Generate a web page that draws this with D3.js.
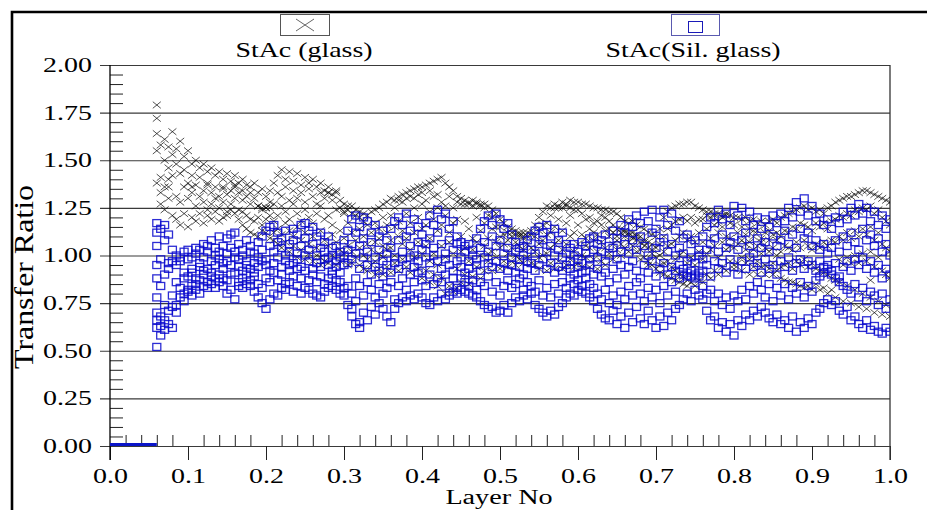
<!DOCTYPE html>
<html><head><meta charset="utf-8">
<script src="https://cdn.jsdelivr.net/npm/d3@7"></script>
<style>
html,body{margin:0;padding:0;background:#fff;}
svg{display:block;font-family:"Liberation Serif","Times New Roman",serif;}
</style></head><body>
<svg id="chart" width="927" height="510"></svg>
<script>
// Layer positions (fraction of stack depth), one column of readings per layer
const layer = [
  0.060,0.065,0.070,0.075,0.080,0.085,0.090,0.095,0.100,0.105,
  0.110,0.115,0.120,0.125,0.130,0.135,0.140,0.145,0.150,0.155,
  0.160,0.165,0.170,0.175,0.180,0.185,0.190,0.195,0.200,0.205,
  0.210,0.215,0.220,0.225,0.230,0.235,0.240,0.245,0.250,0.255,
  0.260,0.265,0.270,0.275,0.280,0.285,0.290,0.295,0.300,0.305,
  0.310,0.315,0.320,0.325,0.330,0.335,0.340,0.345,0.350,0.355,
  0.360,0.365,0.370,0.375,0.380,0.385,0.390,0.395,0.400,0.405,
  0.410,0.415,0.420,0.425,0.430,0.435,0.440,0.445,0.450,0.455,
  0.460,0.465,0.470,0.475,0.480,0.485,0.490,0.495,0.500,0.505,
  0.510,0.515,0.520,0.525,0.530,0.535,0.540,0.545,0.550,0.555,
  0.560,0.565,0.570,0.575,0.580,0.585,0.590,0.595,0.600,0.605,
  0.610,0.615,0.620,0.625,0.630,0.635,0.640,0.645,0.650,0.655,
  0.660,0.665,0.670,0.675,0.680,0.685,0.690,0.695,0.700,0.705,
  0.710,0.715,0.720,0.725,0.730,0.735,0.740,0.745,0.750,0.755,
  0.760,0.765,0.770,0.775,0.780,0.785,0.790,0.795,0.800,0.805,
  0.810,0.815,0.820,0.825,0.830,0.835,0.840,0.845,0.850,0.855,
  0.860,0.865,0.870,0.875,0.880,0.885,0.890,0.895,0.900,0.905,
  0.910,0.915,0.920,0.925,0.930,0.935,0.940,0.945,0.950,0.955,
  0.960,0.965,0.970,0.975,0.980,0.985,0.990,0.995,1.000
];

// StAc (glass): transfer ratios per layer
const glassRatio = [
  [1.79,1.72,1.64,1.55,1.38],[1.58,1.41,1.33,1.27],[1.61,1.50,1.36,1.24],[1.57,1.46,1.40,1.30,1.36],[1.65,1.53,1.42,1.21],[1.56,1.48,1.31,1.19],[1.60,1.43,1.28,1.16],[1.52,1.45,1.36,1.22],[1.55,1.38,1.30,1.15],[1.48,1.42,1.33,1.20,1.36],
  [1.50,1.37,1.26,1.18],[1.46,1.41,1.31,1.22],[1.48,1.34,1.28,1.17],[1.44,1.38,1.24,1.21,1.37],[1.46,1.33,1.27,1.19],[1.42,1.36,1.30,1.23],[1.44,1.31,1.25,1.18],[1.40,1.35,1.28,1.20,1.36],[1.43,1.32,1.23,1.21],[1.39,1.34,1.27,1.24],
  [1.42,1.36,1.30,1.22,1.37],[1.38,1.33,1.24,1.19],[1.40,1.29,1.23,1.16,1.34],[1.37,1.31,1.21,1.14],[1.36,1.27,1.19,1.12,1.33],[1.38,1.30,1.18,1.11],[1.33,1.26,1.20,1.10,1.26],[1.35,1.24,1.16,1.13,1.25],[1.31,1.25,1.25,1.19,1.12],[1.34,1.28,1.21,1.09,1.25],
  [1.38,1.27,1.18,1.08,1.12],[1.42,1.33,1.21,1.14,1.06],[1.45,1.31,1.26,1.11,1.04],[1.40,1.36,1.23,1.17,1.07],[1.44,1.29,1.19,1.13,1.02],[1.39,1.34,1.27,1.10,1.05],[1.43,1.30,1.22,1.15,0.99],[1.37,1.33,1.18,1.08,1.03],[1.41,1.28,1.24,1.12,0.98],[1.38,1.35,1.20,1.06,1.01],
  [1.40,1.31,1.17,1.10,0.97],[1.36,1.27,1.22,1.04,1.00],[1.38,1.33,1.26,1.13,0.99,0.95],[1.34,1.30,1.19,1.08,0.97],[1.36,1.33,1.33,1.21,1.05,0.96],[1.32,1.29,1.16,1.11,1.00],[1.33,1.34,1.24,1.07,0.95],[1.29,1.25,1.13,1.03,0.97],[1.27,1.23,1.22,1.09,1.01],[1.26,1.24,1.17,1.05,0.95],
  [1.26,1.22,1.12,1.02,0.96],[1.24,1.21,1.08,0.99],[1.23,1.20,1.14,1.04,0.95],[1.22,1.18,1.10,1.00,0.93],[1.21,1.16,1.06,0.98,0.92],[1.23,1.12,1.03,0.95],[1.24,1.17,1.07,0.97,0.90],[1.25,1.14,1.09,1.01,0.93],[1.27,1.20,1.05,0.99,0.90],[1.28,1.16,1.12,1.03,0.94],
  [1.30,1.21,1.08,1.04,0.91],[1.29,1.25,1.15,1.00,0.96],[1.31,1.29,1.18,1.10,0.92],[1.32,1.28,1.13,1.06,0.98],[1.33,1.30,1.22,1.09,0.94],[1.34,1.31,1.17,1.03,0.91],[1.35,1.30,1.25,1.12,0.99],[1.36,1.32,1.20,1.07,0.93],[1.36,1.33,1.27,1.14,1.01,0.88],[1.37,1.29,1.16,1.05,0.92],
  [1.38,1.34,1.23,1.09,0.86,0.97],[1.39,1.31,1.19,1.01,0.90],[1.40,1.32,1.25,1.13,0.95,0.84],[1.41,1.28,1.16,1.05,0.88],[1.38,1.26,1.21,0.99,0.80],[1.36,1.31,1.12,1.07,0.84],[1.34,1.25,1.17,1.01,0.81],[1.31,1.28,1.19,0.93,0.83],[1.30,1.27,1.10,1.02,0.86],[1.29,1.27,1.18,1.04,0.90],
  [1.28,1.27,1.14,0.97,0.85],[1.29,1.26,1.09,1.03,0.89],[1.28,1.27,1.20,1.07,0.94],[1.27,1.26,1.13,1.00,0.88],[1.27,1.25,1.17,1.05,0.92],[1.26,1.21,1.09,0.97,1.01],[1.24,1.20,1.14,1.02,0.92],[1.22,1.15,1.07,0.99],[1.19,1.15,1.10,1.04,0.93],[1.17,1.11,1.06,0.97],
  [1.15,1.12,1.08,1.01,0.94],[1.14,1.12,1.04,0.97,1.10],[1.13,1.11,1.07,1.00,0.95],[1.12,1.10,1.05,0.98,1.11],[1.12,1.09,1.03,0.96,1.10],[1.12,1.10,1.06,0.99],[1.13,1.11,1.04,0.96],[1.16,1.10,1.02,0.95],[1.20,1.13,1.06,0.99,0.93],[1.23,1.16,1.08,1.00],
  [1.26,1.17,1.11,1.01,0.92],[1.25,1.21,1.12,1.04,0.96],[1.27,1.25,1.15,1.06,0.93],[1.26,1.25,1.19,1.08,0.97],[1.28,1.25,1.13,1.03,0.93],[1.27,1.26,1.17,1.06,0.95],[1.29,1.25,1.21,1.10,0.98],[1.28,1.24,1.12,1.02,0.94],[1.28,1.24,1.16,1.06,0.96],[1.27,1.22,1.11,1.00,0.94],
  [1.27,1.19,1.09,0.99,1.05],[1.26,1.20,1.14,1.04,0.94],[1.25,1.17,1.08,0.98,1.12],[1.25,1.18,1.11,1.02,0.93],[1.24,1.16,1.07,0.97,1.21],[1.24,1.20,1.13,1.04,0.95],[1.23,1.18,1.10,1.01,1.14],[1.23,1.16,1.12,1.06,0.98],[1.22,1.14,1.10,1.03,1.08],[1.20,1.14,1.12,1.06,1.00],
  [1.18,1.13,1.10,1.04,1.12],[1.17,1.12,1.11,1.07,1.02],[1.18,1.12,1.10,1.05,1.09],[1.16,1.11,1.08,1.02,1.10],[1.15,1.10,1.07,1.03,0.98],[1.14,1.08,1.05,0.99,1.07],[1.12,1.07,1.04,0.97,0.95],[1.11,1.06,1.01,0.95,1.03],[1.10,1.04,0.99,0.93],[1.14,1.06,1.00,0.95,0.91],
  [1.20,1.10,1.02,0.96,0.90],[1.23,1.14,1.05,0.97,0.89],[1.25,1.16,1.06,0.94,0.88],[1.26,1.18,1.08,0.98,0.92,0.87],[1.27,1.19,1.10,1.00,0.90,0.86],[1.27,1.20,1.12,1.02,0.89,0.85],[1.28,1.18,1.08,0.96,0.87,0.84],[1.28,1.20,1.10,0.99,0.86],[1.26,1.17,1.07,0.95,0.84],[1.25,1.19,1.12,1.02,0.87],
  [1.24,1.19,1.07,0.98,0.86],[1.23,1.21,1.14,1.01,0.90],[1.23,1.20,1.09,1.03,0.88],[1.22,1.21,1.16,1.05,0.92],[1.22,1.18,1.12,0.99,0.90],[1.21,1.20,1.15,1.07,0.94],[1.22,1.21,1.10,1.03,0.92],[1.21,1.17,1.09,0.97,1.05],[1.20,1.16,1.04,0.95,0.93],[1.20,1.12,1.06,0.96],
  [1.19,1.15,1.08,0.99,0.92],[1.20,1.11,1.03,0.96,1.06],[1.18,1.14,1.07,0.98,0.90],[1.19,1.10,1.03,0.94,1.13],[1.17,1.13,1.05,0.97,0.90],[1.18,1.09,1.01,0.94,1.07],[1.16,1.12,1.04,0.95,0.90],[1.18,1.08,1.02,0.93,1.13],[1.19,1.11,1.04,0.96,0.90],[1.17,1.08,1.00,0.92,1.12],
  [1.20,1.10,1.02,0.94,0.88],[1.21,1.13,1.05,0.95,0.87],[1.22,1.12,1.04,0.96,0.86],[1.23,1.15,1.03,0.93,0.86],[1.24,1.14,1.07,0.97,0.85],[1.25,1.17,1.04,0.95,0.84],[1.26,1.16,1.08,0.98,0.83],[1.24,1.15,1.05,0.94,0.84],[1.25,1.13,1.03,0.96,0.82],[1.23,1.17,1.06,0.93,0.85],
  [1.24,1.15,1.04,0.92,0.82],[1.22,1.17,1.07,0.91,0.83],[1.25,1.14,1.05,0.90,0.80],[1.26,1.18,1.08,0.88,0.82],[1.28,1.19,1.07,0.87,0.78],[1.29,1.21,1.10,0.98,0.86],[1.30,1.20,1.08,0.95,0.76],[1.31,1.22,1.12,0.99,0.84],[1.31,1.21,1.09,0.96,0.75],[1.32,1.24,1.13,1.00,0.82],
  [1.33,1.23,1.10,0.96,0.73],[1.34,1.25,1.14,1.01,0.80],[1.34,1.24,1.11,0.97,0.72],[1.33,1.26,1.15,1.02,0.78,0.87],[1.32,1.22,1.08,0.94,0.70],[1.31,1.24,1.12,0.99,0.76],[1.30,1.20,1.06,0.92,0.69],[1.29,1.18,1.04,0.90,0.74],[1.28,1.16,1.02,0.88,0.68]
];

// StAc (Sil. glass): transfer ratios per layer
const silGlassRatio = [
  [1.17,1.12,1.05,0.95,0.88,0.78,0.70,0.66,0.62,0.52],[1.14,0.98,0.84,0.68,0.63,0.58],[1.16,1.08,0.90,0.74,0.66,0.61],[1.11,0.96,0.93,0.71,0.64],[1.03,0.97,0.79,0.73,0.62],[1.00,0.95,0.86,0.74,0.70],[0.99,0.97,0.83,0.78],[1.02,0.91,0.88,0.80,0.76],[1.03,0.98,0.89,0.82,0.81],[0.99,0.93,0.91,0.84,0.79],
  [1.04,1.01,0.88,0.85,0.82],[1.03,0.96,0.94,0.87,0.80],[1.06,0.99,0.90,0.92,0.84],[1.02,1.05,0.93,0.86,0.83],[1.08,0.97,0.91,0.89,0.85],[1.00,1.04,0.95,0.88,0.83],[1.10,0.98,1.02,0.90,0.86],[1.05,0.96,0.93,0.88,0.84],[1.09,1.01,0.97,0.87,0.80],[1.11,1.04,0.95,0.90,0.82],
  [1.12,1.02,0.99,0.91,0.77],[1.06,0.98,0.94,0.86,0.84],[1.03,1.00,0.92,0.88,0.83],[1.08,0.97,0.95,0.90,0.85],[1.05,1.02,0.93,0.87,0.84],[1.01,0.96,0.91,0.89,0.81],[1.07,0.99,0.94,0.85,0.78],[1.10,1.03,0.97,0.83,0.75],[1.13,0.98,0.95,0.88,0.72],[1.15,1.05,0.92,0.86,0.77],
  [1.16,1.02,0.96,0.91,0.80],[1.12,1.07,0.99,0.87,0.79],[1.09,1.04,0.94,0.90,0.83],[1.13,1.00,0.97,0.85,0.82],[1.06,1.02,0.95,0.92,0.86],[1.14,1.08,0.96,0.89,0.81],[1.11,1.01,0.98,0.93,0.84],[1.16,1.05,0.94,0.88,0.80],[1.17,1.09,1.00,0.92,0.83],[1.13,1.03,0.97,0.87,0.82],
  [1.15,1.06,0.93,0.90,0.80],[1.10,1.00,0.96,0.86,0.79],[1.12,1.04,0.94,0.89,0.78],[1.07,1.02,0.98,0.85,0.81],[1.10,0.99,0.95,0.88,0.83],[1.04,1.00,0.92,0.90,0.84],[1.05,0.97,0.94,0.87,0.82],[1.02,0.99,0.91,0.86,0.80],[1.08,1.00,0.95,0.83,0.79],[1.13,1.03,0.96,0.84,0.74],
  [1.19,1.06,0.98,0.80,0.72,0.68],[1.21,1.12,1.01,0.88,0.76,0.64],[1.15,1.05,0.93,0.84,0.65,0.62],[1.20,1.09,0.99,0.79,0.70],[1.18,1.02,0.95,0.86,0.66],[1.12,1.07,0.90,0.82,0.73],[1.16,0.99,0.94,0.78,0.69],[1.10,1.03,0.92,0.85,0.75],[1.13,0.97,0.89,0.80,0.72],[1.08,1.01,0.95,0.83,0.68],
  [1.14,1.04,0.91,0.86,0.65],[1.18,0.99,0.96,0.77,0.72],[1.20,1.08,0.93,0.84,0.75],[1.16,1.02,0.98,0.88,0.78],[1.22,1.10,0.95,0.82,0.76],[1.13,1.05,0.99,0.90,0.79],[1.19,1.00,0.94,0.86,0.77],[1.15,1.07,0.97,0.91,0.80],[1.11,1.03,0.92,0.87,0.78],[1.17,1.06,0.99,0.84,0.75],
  [1.21,1.09,0.96,0.90,0.74],[1.16,1.04,1.00,0.85,0.78],[1.24,1.12,0.97,0.88,0.76],[1.19,1.06,0.93,0.86,0.80],[1.22,1.01,0.98,0.90,0.77],[1.14,1.08,0.95,0.84,0.79],[1.18,1.03,0.92,0.88,0.81],[1.10,1.06,0.97,0.83,0.80],[1.07,0.99,0.94,0.88,0.82],[1.05,1.02,0.91,0.86,0.81],
  [1.06,0.97,0.93,0.84,0.80],[1.03,1.00,0.90,0.87,0.79],[1.09,0.98,0.95,0.82,0.78],[1.14,1.04,0.92,0.86,0.76],[1.18,1.07,0.99,0.84,0.74],[1.21,1.02,0.96,0.89,0.72],[1.16,1.10,0.94,0.81,0.73],[1.22,1.05,0.97,0.86,0.70],[1.19,1.08,0.93,0.79,0.71],[1.14,1.01,0.96,0.84,0.74],
  [1.17,1.04,0.92,0.87,0.70],[1.11,0.99,0.95,0.83,0.75],[1.07,1.02,0.91,0.85,0.78],[1.04,0.98,0.94,0.88,0.76],[1.05,1.00,0.90,0.82,0.79],[1.08,0.97,0.93,0.86,0.77],[1.10,1.03,0.96,0.84,0.80],[1.13,1.01,0.92,0.81,0.74],[1.15,1.06,0.95,0.87,0.72],[1.12,1.08,0.98,0.79,0.70],
  [1.16,1.02,0.93,0.83,0.68],[1.10,1.05,0.96,0.78,0.71],[1.14,1.00,0.91,0.85,0.69],[1.08,1.03,0.94,0.80,0.73],[1.12,0.99,0.92,0.86,0.75],[1.06,1.01,0.95,0.83,0.78],[1.04,0.97,0.93,0.88,0.80],[1.06,1.00,0.90,0.85,0.79],[1.02,0.98,0.94,0.87,0.82],[1.07,0.96,0.91,0.84,0.81],
  [1.05,1.01,0.92,0.88,0.80],[1.09,0.98,0.95,0.85,0.78],[1.10,1.03,0.90,0.83,0.76],[1.06,0.99,0.93,0.80,0.72],[1.08,1.02,0.89,0.77,0.69],[1.11,0.97,0.91,0.82,0.67],[1.05,1.00,0.86,0.75,0.66],[1.13,1.04,0.93,0.79,0.71],[1.09,0.98,0.88,0.74,0.64],[1.16,1.02,0.95,0.81,0.68],
  [1.12,1.06,0.90,0.77,0.62],[1.19,1.01,0.94,0.84,0.70],[1.15,1.08,0.97,0.79,0.65],[1.21,1.03,0.92,0.86,0.73],[1.17,1.10,0.88,0.80,0.67],[1.23,1.05,0.95,0.76,0.64],[1.18,1.00,0.91,0.83,0.71],[1.24,1.12,0.97,0.78,0.66],[1.14,1.04,0.89,0.82,0.62],[1.20,1.07,0.93,0.75,0.68],
  [1.24,1.09,0.96,0.84,0.63],[1.16,1.02,0.90,0.79,0.70],[1.22,1.06,0.94,0.86,0.66],[1.13,1.00,0.92,0.81,0.72],[1.18,1.04,0.95,0.88,0.74],[1.09,1.01,0.93,0.90,0.77],[1.11,0.97,0.91,0.89,0.80],[1.06,0.99,0.92,0.89,0.76],[1.08,0.96,0.90,0.88,0.82],[1.03,1.00,0.91,0.89,0.79],
  [1.10,0.98,0.92,0.84,0.77],[1.15,1.03,0.95,0.80,0.71],[1.20,1.06,0.89,0.82,0.66],[1.17,1.09,0.97,0.76,0.68],[1.24,1.02,0.93,0.80,0.62],[1.19,1.11,0.96,0.74,0.65],[1.22,1.04,0.91,0.78,0.60],[1.16,1.07,0.98,0.72,0.64],[1.26,1.10,0.94,0.79,0.58],[1.21,1.03,0.90,0.76,0.66],
  [1.25,1.08,0.97,0.82,0.63],[1.18,1.12,0.93,0.77,0.69],[1.23,1.05,0.99,0.84,0.66],[1.16,1.01,0.94,0.80,0.71],[1.20,1.09,0.96,0.86,0.68],[1.14,1.04,0.91,0.82,0.73],[1.19,1.07,0.98,0.78,0.70],[1.15,1.02,0.93,0.85,0.67],[1.21,1.10,0.95,0.76,0.65],[1.17,1.05,0.90,0.83,0.69],
  [1.22,1.08,0.97,0.79,0.64],[1.18,1.13,0.94,0.85,0.66],[1.25,1.06,0.99,0.77,0.62],[1.20,1.11,0.92,0.83,0.68],[1.28,1.04,0.96,0.80,0.60],[1.23,1.14,0.98,0.86,0.65],[1.30,1.09,0.93,0.78,0.62],[1.21,1.12,0.97,0.84,0.67],[1.26,1.05,0.95,0.81,0.64],[1.18,1.08,0.92,0.87,0.70],
  [1.22,1.03,0.97,0.89,0.72],[1.16,1.06,0.94,0.91,0.75],[1.19,1.01,0.95,0.93,0.77],[1.14,1.04,0.92,0.90,0.74],[1.20,1.08,0.96,0.88,0.76],[1.17,1.02,0.89,0.86,0.71],[1.23,1.10,0.94,0.84,0.69],[1.19,1.05,0.97,0.82,0.73],[1.25,1.12,0.92,0.80,0.66],[1.21,1.07,0.98,0.85,0.68],
  [1.27,1.03,0.95,0.78,0.64],[1.22,1.14,0.99,0.83,0.62],[1.25,1.08,0.93,0.76,0.66],[1.18,1.11,0.97,0.81,0.61],[1.23,1.05,0.91,0.79,0.63],[1.16,1.09,0.95,0.74,0.60],[1.21,1.02,0.88,0.80,0.59],[1.14,1.06,0.93,0.72,0.62],[1.19,1.00,0.90,0.77,0.60]
];

// Leading layers where the Sil. glass ratio reads zero
const zeroRunLayers = [0.0, 0.06];
const zeroRunRatio = 0;

const xTickValues = [0.0,0.1,0.2,0.3,0.4,0.5,0.6,0.7,0.8,0.9,1.0];
const yTickValues = [0.00,0.25,0.50,0.75,1.00,1.25,1.50,1.75,2.00];
const seriesNames = ["StAc (glass)", "StAc(Sil. glass)"];

const SX = 1.4; // horizontal stretch of the serif lettering

const svg = d3.select("#chart");
const x = d3.scaleLinear().domain([0, 1]).range([110, 890]);
const y = d3.scaleLinear().domain([0, 2]).range([446, 65]);

// outer frame
svg.append("path").attr("d", "M12,512V12H929")
  .attr("fill", "none").attr("stroke", "#000").attr("stroke-width", 2.6);

// horizontal grid + y labels
const gy = svg.append("g").attr("transform", "translate(890,0)")
  .call(d3.axisLeft(y).tickValues(yTickValues).tickSize(790).tickPadding(8).tickFormat(d3.format(".2f")));
gy.select(".domain").remove();
gy.selectAll(".tick line").attr("stroke", "#3a3a3a").attr("stroke-width", 1.1);
gy.selectAll(".tick text").attr("font-size", 20).attr("fill", "#000")
  .attr("font-family", "Liberation Serif, serif")
  .attr("x", -798 / SX).attr("transform", `scale(${SX},1)`);

// y minor ticks
const yMinor = d3.range(0.05, 2.0, 0.05).filter(v => Math.abs(v / 0.25 - Math.round(v / 0.25)) > 1e-6);
const gym = svg.append("g").attr("transform", "translate(110,0)")
  .call(d3.axisRight(y).tickValues(yMinor).tickSize(13).tickFormat(""));
gym.select(".domain").remove();
gym.selectAll(".tick line").attr("stroke", "#222");

// x axis: major ticks below, minor ticks above
const gx = svg.append("g").attr("transform", "translate(0,446)")
  .call(d3.axisBottom(x).tickValues(xTickValues).tickSize(14).tickSizeOuter(0).tickPadding(9).tickFormat(d3.format(".1f")));
gx.select(".domain").remove();
gx.selectAll(".tick line").attr("stroke", "#222");
gx.selectAll(".tick text").attr("font-size", 20).attr("fill", "#000")
  .attr("font-family", "Liberation Serif, serif")
  .attr("transform", `scale(${SX},1)`);

const xMinor = d3.range(0.02, 1.0, 0.02).filter(v => Math.abs(v * 10 - Math.round(v * 10)) > 1e-6);
const gxm = svg.append("g").attr("transform", "translate(0,446)")
  .call(d3.axisTop(x).tickValues(xMinor).tickSize(11).tickFormat(""));
gxm.select(".domain").remove();
gxm.selectAll(".tick line").attr("stroke", "#222");

// left and right frame of plot
svg.append("line").attr("x1", x(0)).attr("x2", x(0)).attr("y1", y(2)).attr("y2", 460)
  .attr("stroke", "#000").attr("stroke-width", 1.3);
svg.append("line").attr("x1", x(1)).attr("x2", x(1)).attr("y1", y(2)).attr("y2", 460)
  .attr("stroke", "#333").attr("stroke-width", 1.3);

// data
svg.append("clipPath").attr("id", "plotClip").append("rect")
  .attr("x", x(0)).attr("y", y(2)).attr("width", x(1) - x(0)).attr("height", y(0) - y(2));
const plot = svg.append("g").attr("clip-path", "url(#plotClip)");

const glassPts = layer.flatMap((lx, i) => (glassRatio[i] || []).map(v => ({ x: lx, v })));
const silPts = layer.flatMap((lx, i) => (silGlassRatio[i] || []).map(v => ({ x: lx, v })));

plot.append("g").selectAll("path").data(glassPts).join("path")
  .attr("transform", d => `translate(${x(d.x)},${y(d.v)})`)
  .attr("d", "M-4,-3.3L4,3.3M-4,3.3L4,-3.3")
  .attr("fill", "none").attr("stroke", "#000").attr("stroke-opacity", 0.68).attr("stroke-width", 1);

plot.append("g").selectAll("rect").data(silPts).join("rect")
  .attr("x", d => x(d.x) - 4).attr("y", d => y(d.v) - 3.5)
  .attr("width", 8).attr("height", 7)
  .attr("fill", "none").attr("stroke", "#0808cc").attr("stroke-opacity", 0.85).attr("stroke-width", 1.3);

svg.append("path")
  .datum(zeroRunLayers)
  .attr("d", d3.line().x(d => x(d)).y(() => y(zeroRunRatio) - 1.5))
  .attr("stroke", "#0a14c8").attr("stroke-width", 3).attr("fill", "none");

// legend
const lg1 = svg.append("g");
lg1.append("rect").attr("x", 280.5).attr("y", 14.5).attr("width", 49).attr("height", 21)
  .attr("fill", "none").attr("stroke", "#555");
lg1.append("path").attr("d", "M296,19L314,31M296,31L314,19").attr("stroke", "#666").attr("fill", "none");
lg1.append("text").attr("transform", `translate(304,57) scale(1.33,1)`)
  .attr("text-anchor", "middle").attr("font-size", 21).text(seriesNames[0]);

const lg2 = svg.append("g");
lg2.append("rect").attr("x", 671.5).attr("y", 14.5).attr("width", 48).attr("height", 21)
  .attr("fill", "none").attr("stroke", "#5a5ab0");
lg2.append("rect").attr("x", 688.5).attr("y", 21.5).attr("width", 14).attr("height", 11)
  .attr("fill", "none").attr("stroke", "#1a1ab8");
lg2.append("text").attr("transform", `translate(693,57) scale(1.33,1)`)
  .attr("text-anchor", "middle").attr("font-size", 21).text(seriesNames[1]);

// axis titles
svg.append("text").attr("transform", `translate(499,504) scale(1.41,1)`)
  .attr("text-anchor", "middle").attr("font-size", 20).text("Layer No");
svg.append("text").attr("transform", `translate(33,277) rotate(-90) scale(1.45,1.2)`)
  .attr("text-anchor", "middle").attr("font-size", 22).text("Transfer Ratio");
</script>
</body></html>
